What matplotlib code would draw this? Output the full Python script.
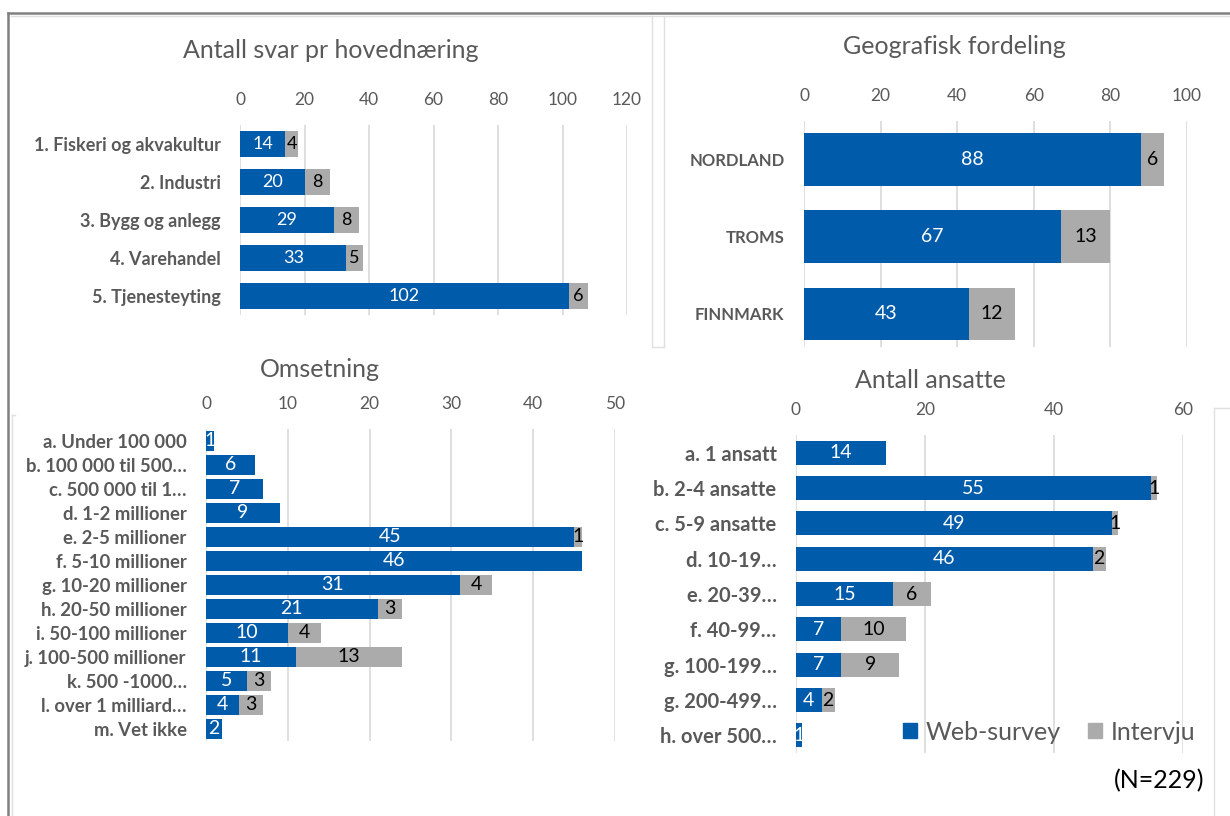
import numpy as np
import matplotlib
matplotlib.use("Agg")
import matplotlib.pyplot as plt
from matplotlib.lines import Line2D
from matplotlib.patches import Rectangle

plt.rcParams['font.family'] = ['Lato', 'DejaVu Sans']

BLUE = '#005BAA'
GRAY = '#ABABAB'
TXT = '#595959'
GRID = '#D9D9D9'

# data
naering_cat = ["1. Fiskeri og akvakultur", "2. Industri", "3. Bygg og anlegg",
               "4. Varehandel", "5. Tjenesteyting"]
naering_web = [14, 20, 29, 33, 102]
naering_int = [4, 8, 8, 5, 6]

fylke_cat = ["NORDLAND", "TROMS", "FINNMARK"]
fylke_web = [88, 67, 43]
fylke_int = [6, 13, 12]

oms_cat = ["a. Under 100 000", "b. 100 000 til 500…", "c. 500 000 til 1…",
           "d. 1-2 millioner", "e. 2-5 millioner", "f. 5-10 millioner",
           "g. 10-20 millioner", "h. 20-50 millioner", "i. 50-100 millioner",
           "j. 100-500 millioner", "k. 500 -1000…", "l. over 1 milliard…",
           "m. Vet ikke"]
oms_web = [1, 6, 7, 9, 45, 46, 31, 21, 10, 11, 5, 4, 2]
oms_int = [0, 0, 0, 0, 1, 0, 4, 3, 4, 13, 3, 3, 0]

ans_cat = ["a. 1 ansatt", "b. 2-4 ansatte", "c. 5-9 ansatte", "d. 10-19…",
           "e. 20-39…", "f. 40-99…", "g. 100-199…", "g. 200-499…", "h. over 500…"]
ans_web = [14, 55, 49, 46, 15, 7, 7, 4, 1]
ans_int = [0, 1, 1, 2, 6, 10, 9, 2, 0]

W, H = 1230, 816
fig = plt.figure(figsize=(W / 100, H / 100), dpi=100)


def px_axes(left, right, top, bottom):
    return fig.add_axes([left / W, 1 - bottom / H, (right - left) / W, (bottom - top) / H])


def fig_text(x, y, s, **kw):
    fig.text(x / W, 1 - y / H, s, **kw)


def fig_line(x0, y0, x1, y1, color='#E0E0E0', lw=1):
    fig.add_artist(Line2D([x0 / W, x1 / W], [1 - y0 / H, 1 - y1 / H], color=color, lw=lw))


def panel(ax, cats, web, inte, xmax, step, height, lab_size, val_size, ybottom=None):
    y = np.arange(len(cats))
    ax.barh(y, web, height=height, color=BLUE, zorder=2)
    ax.barh(y, inte, left=web, height=height, color=GRAY, zorder=2)
    for i in range(len(cats)):
        if web[i] > 0:
            ax.text(web[i] / 2, i, str(web[i]), ha='center', va='center',
                    color='white', fontsize=val_size, zorder=3)
        if inte[i] > 0:
            ax.text(web[i] + inte[i] / 2, i, str(inte[i]), ha='center', va='center',
                    color='black', fontsize=val_size, zorder=3)
    ax.set_xlim(0, xmax)
    ax.set_ylim(len(cats) - 0.5 if ybottom is None else ybottom, -0.5)
    ax.set_xticks(np.arange(0, xmax + 1, step))
    ax.xaxis.tick_top()
    ax.tick_params(axis='x', length=0, labelsize=12.5, labelcolor=TXT, pad=12)
    ax.set_yticks(y)
    ax.set_yticklabels(cats, fontsize=lab_size, fontweight='bold', color=TXT)
    ax.tick_params(axis='y', length=0, pad=14)
    ax.grid(axis='x', color=GRID, lw=1.2, zorder=0)
    for s in ax.spines.values():
        s.set_visible(False)
    ax.patch.set_alpha(0)


# frames
fig_line(8, 13, 8, 816, color='#808080', lw=1.8)
fig_line(8, 13, 1230, 13, color='#808080', lw=1.8)
fig_line(11, 16, 1230, 16)
fig_line(652, 16, 652, 347)
fig_line(664, 16, 664, 347)
fig_line(652, 347, 664, 347)
fig_line(12, 415, 12, 816)
fig_line(12, 415, 15, 415)
fig_line(1214, 408, 1214, 816)
fig_line(1214, 408, 1230, 408)

ax1 = px_axes(240, 627, 125, 315)
panel(ax1, naering_cat, naering_web, naering_int, 120, 20, 0.66, 13, 13)
fig_text(331, 50, "Antall svar pr hovednæring", ha='center', va='center',
         fontsize=18, color=TXT)

ax2 = px_axes(804, 1187, 121, 347)
panel(ax2, fylke_cat, fylke_web, fylke_int, 100, 20, 0.68, 12, 14, ybottom=2.43)
fig_text(954, 47, "Geografisk fordeling", ha='center', va='center',
         fontsize=18, color=TXT)

ax3 = px_axes(206, 615, 429, 741)
panel(ax3, oms_cat, oms_web, oms_int, 50, 10, 0.83, 13.3, 14)
fig_text(320, 370, "Omsetning", ha='center', va='center', fontsize=18, color=TXT)

ax4 = px_axes(796, 1183, 435, 753)
panel(ax4, ans_cat, ans_web, ans_int, 60, 20, 0.68, 14.5, 14)
fig_text(930, 380, "Antall ansatte", ha='center', va='center', fontsize=18, color=TXT)

handles = [Rectangle((0, 0), 1, 1, color=BLUE), Rectangle((0, 0), 1, 1, color=GRAY)]
fig.legend(handles, ["Web-survey", "Intervju"], loc='center', ncol=2,
           bbox_to_anchor=(1049 / W, 1 - 732 / H), frameon=False, fontsize=18,
           labelcolor=TXT, handlelength=0.55, handleheight=0.55, handletextpad=0.35,
           columnspacing=1.1, borderpad=0, borderaxespad=0)

fig_text(1159, 781, "(N=229)", ha='center', va='center', fontsize=18, color='black')

fig.savefig("out.png", dpi=100)
